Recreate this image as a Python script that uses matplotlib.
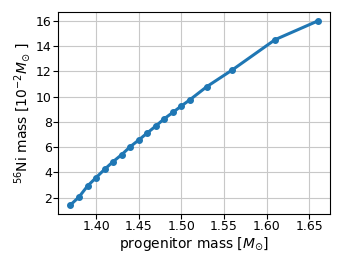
import matplotlib
matplotlib.use("Agg")
import matplotlib.pyplot as plt

# progenitor mass vs 56Ni mass
prog_mass = [1.37, 1.38, 1.39, 1.40, 1.41, 1.42, 1.43, 1.44, 1.45, 1.46,
             1.47, 1.48, 1.49, 1.50, 1.51, 1.53, 1.56, 1.61, 1.66]
ni_mass = [1.42, 2.05, 2.92, 3.58, 4.24, 4.85, 5.4, 6.03, 6.56, 7.12,
           7.67, 8.25, 8.75, 9.26, 9.75, 10.8, 12.13, 14.52, 16.0]

fig = plt.figure(figsize=(3.42, 2.57), dpi=100)
ax = fig.add_axes([0.17, 0.167, 0.795, 0.787])
ax.plot(prog_mass, ni_mass, '-o', lw=2.2, ms=4, color='#1f77b4')
ax.grid(True, color='#c8c8c8', lw=0.8)
ax.set_xticks([1.40, 1.45, 1.50, 1.55, 1.60, 1.65])
ax.set_yticks([2, 4, 6, 8, 10, 12, 14, 16])
ax.tick_params(labelsize=9, pad=1.2, length=3.3)
ax.set_xlabel(r'progenitor mass [$M_{\odot}$]', fontsize=10, labelpad=1.5)
ax.set_ylabel(r'$^{56}$Ni mass [$10^{-2} M_{\odot}$ ]', fontsize=10, labelpad=2)
fig.savefig('out.png', dpi=100)
